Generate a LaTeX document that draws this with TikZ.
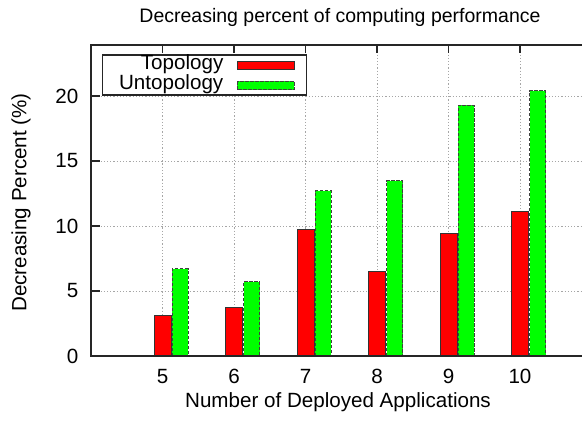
\documentclass[tikz,border=0pt]{standalone}
\usepackage{fontspec}
\setmainfont{Liberation Sans}
\begin{document}
\begin{tikzpicture}[x=1pt,y=-1pt,
  lbl/.style={font=\fontsize{20.6}{24}\selectfont, inner sep=0pt},
  ttl/.style={font=\fontsize{19.5}{23}\selectfont, inner sep=0pt},
  gridline/.style={gray!70, line width=0.8pt, dash pattern=on 1.2pt off 2pt},
  frameline/.style={black!85, line width=1.8pt},
  tickline/.style={black!85, line width=1.8pt},
  redbar/.style={fill=red, draw=black!80, line width=0.9pt},
  greenbar/.style={fill=green, draw=black!75, line width=0.9pt, dash pattern=on 3.5pt off 1.5pt},
]
\useasboundingbox (0,0) rectangle (582,421);
\fill[white] (0,0) rectangle (582,421);
% data to pixel mapping: X(v)=91+(v-4)*71.5, Y(v)=356-13v
\begin{scope}
\clip (0,0) rectangle (582,421);
% grid
\foreach \v in {5,10,15,20}
  \draw[gridline] (91,{356-13*\v}) -- (582,{356-13*\v});
\foreach \v in {5,...,10}
  \draw[gridline] ({91+(\v-4)*71.5},45) -- ({91+(\v-4)*71.5},356);
% ticks
\foreach \v in {5,10,15,20}
  \draw[tickline] (91,{356-13*\v}) -- (100,{356-13*\v});
\foreach \v in {5,...,10}
  \draw[tickline] ({91+(\v-4)*71.5},45) -- ({91+(\v-4)*71.5},53);
% bars
\foreach \v/\r/\g in {5/3.1/6.7, 6/3.7/5.7, 7/9.7/12.7, 8/6.5/13.5, 9/9.4/19.3, 10/11.1/20.4}{
  \draw[redbar] ({91+(\v-4)*71.5-8.5},356) rectangle ({91+(\v-4)*71.5+8.5},{356-13*\r});
  \draw[greenbar] ({91+(\v-4)*71.5+9.5},356) rectangle ({91+(\v-4)*71.5+25.5},{356-13*\g});
}
% frame
\draw[frameline] (584,45) -- (91,45) -- (91,356) -- (584,356);
\end{scope}
% legend
\draw[fill=white, draw=black!85, line width=1.4pt] (102.7,55) rectangle (306.7,95);
\node[lbl, anchor=base east] (leg1) at (223.5,69.5) {Topology};
\node[lbl, anchor=base east] (leg2) at (223.5,89.5) {Untopology};
\draw[redbar] (237,61) rectangle (294,69.5);
\draw[greenbar] (237,81) rectangle (294,89.8);
% tick labels
\foreach \v in {0,5,10,15,20}
  \node[lbl, anchor=east] (y\v) at (78.5,{356-13*\v}) {\v};
\foreach \v in {5,...,10}
  \node[lbl, anchor=base] (x\v) at ({91+(\v-4)*71.5},383) {\v};
% titles
\node[ttl, anchor=base] (title) at (340,22.7) {Decreasing percent of computing performance};
\node[lbl, anchor=base] (xlab) at (338,407) {Number of Deployed Applications};
\node[lbl, rotate=90] (ylab) at (21,202.5) {Decreasing Percent (\%)};
\end{tikzpicture}
\end{document}
